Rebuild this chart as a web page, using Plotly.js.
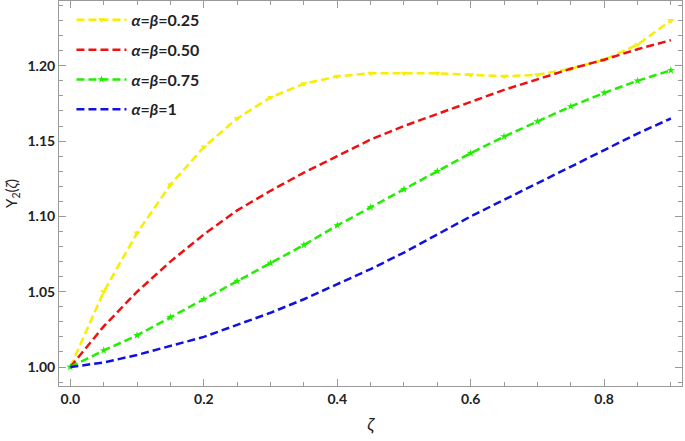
<!DOCTYPE html>
<html>
<head>
<meta charset="utf-8">
<script src="https://cdn.plot.ly/plotly-3.0.1.min.js"></script>
<style>
    html, body { margin: 0; padding: 0; background: #fff; }
    #chart { width: 685px; height: 441px; }
</style>
</head>
<body>
<div id="chart"></div>
<script>
// ζ sample points (every 0.05)
const zeta = [0, 0.05, 0.1, 0.15, 0.2, 0.25, 0.3, 0.35, 0.4, 0.45, 0.5,
              0.55, 0.6, 0.65, 0.7, 0.75, 0.8, 0.85, 0.9];

// Y2(ζ) for each α=β
const y025 = [1.000, 1.050, 1.089, 1.121, 1.146, 1.165, 1.179, 1.188, 1.193, 1.195,
              1.195, 1.195, 1.194, 1.193, 1.194, 1.198, 1.204, 1.214, 1.230];
const y050 = [1.000, 1.027, 1.050, 1.070, 1.088, 1.104, 1.117, 1.129, 1.140, 1.151,
              1.160, 1.168, 1.176, 1.184, 1.191, 1.198, 1.204, 1.211, 1.217];
const y075 = [1.000, 1.011, 1.021, 1.033, 1.045, 1.057, 1.069, 1.081, 1.094, 1.106,
              1.118, 1.130, 1.142, 1.153, 1.163, 1.173, 1.182, 1.190, 1.197];
const y100 = [1.000, 1.003, 1.008, 1.014, 1.020, 1.028, 1.036, 1.045, 1.055, 1.065,
              1.076, 1.088, 1.100, 1.111, 1.122, 1.133, 1.144, 1.155, 1.165];

const seriesNames = ['<i>α</i>=<i>β</i>=0.25', '<i>α</i>=<i>β</i>=0.50',
                     '<i>α</i>=<i>β</i>=0.75', '<i>α</i>=<i>β</i>=1'];
const seriesColors = ['#f7ee00', '#ee1111', '#22ee00', '#1111dd'];
const seriesMarkers = ['triangle-down', null, 'star', null];
const seriesValues = [y025, y050, y075, y100];

const xTicks = [0, 0.2, 0.4, 0.6, 0.8];
const xTickText = ['0.0', '0.2', '0.4', '0.6', '0.8'];
const yTicks = [1.00, 1.05, 1.10, 1.15, 1.20];
const yTickText = ['1.00', '1.05', '1.10', '1.15', '1.20'];

const traces = seriesValues.map((vals, i) => {
    const trace = {
        x: zeta,
        y: vals,
        type: 'scatter',
        mode: 'lines',
        name: seriesNames[i],
        legendgroup: 'g' + i,
        line: { color: seriesColors[i], width: 2.5, dash: '8px,4px' },
    };
    if (seriesMarkers[i]) {
        trace.mode = 'lines+markers';
        trace.marker = { symbol: seriesMarkers[i], size: 6, color: seriesColors[i] };
    }
    return trace;
});

const frameColor = '#9a9a9a';

const layout = {
    width: 685,
    height: 441,
    margin: { l: 59, r: 3, t: 1, b: 55 },
    paper_bgcolor: '#fff',
    plot_bgcolor: '#fff',
    font: { family: "Lato, 'Open Sans', sans-serif", color: '#222', size: 14 },
    showlegend: true,
    legend: {
        x: 0.02,
        y: 0.995,
        xanchor: 'left',
        yanchor: 'top',
        bgcolor: 'rgba(0,0,0,0)',
        font: { size: 16, color: '#222', weight: 'bold' },
        tracegroupgap: 6,
        itemwidth: 50,
    },
    xaxis: {
        range: [-0.017, 0.9167],
        tickvals: xTicks,
        ticktext: xTickText,
        ticks: 'inside',
        ticklen: 7,
        tickcolor: frameColor,
        showline: true,
        linecolor: frameColor,
        linewidth: 1,
        mirror: 'ticks',
        showgrid: false,
        zeroline: false,
        tickfont: { size: 14, weight: 'bold' },
        minor: { dtick: 0.05, tick0: 0, ticks: 'inside', ticklen: 4, tickcolor: frameColor, showgrid: false },
        automargin: true,
        title: { text: '<i>ζ</i>', font: { size: 18 }, standoff: 12 },
    },
    yaxis: {
        range: [0.9874, 1.243],
        tickvals: yTicks,
        ticktext: yTickText,
        ticks: 'inside',
        ticklen: 7,
        tickcolor: frameColor,
        showline: true,
        linecolor: frameColor,
        linewidth: 1,
        mirror: 'ticks',
        showgrid: false,
        zeroline: false,
        tickfont: { size: 14, weight: 'bold' },
        minor: { dtick: 0.01, tick0: 1, ticks: 'inside', ticklen: 4, tickcolor: frameColor, showgrid: false },
        automargin: true,
        title: { text: 'Y<sub>2</sub>(<i>ζ</i>)', font: { size: 15 }, standoff: 6 },
    },
};

Plotly.newPlot('chart', traces, layout, { displayModeBar: false, staticPlot: true });
</script>
</body>
</html>
